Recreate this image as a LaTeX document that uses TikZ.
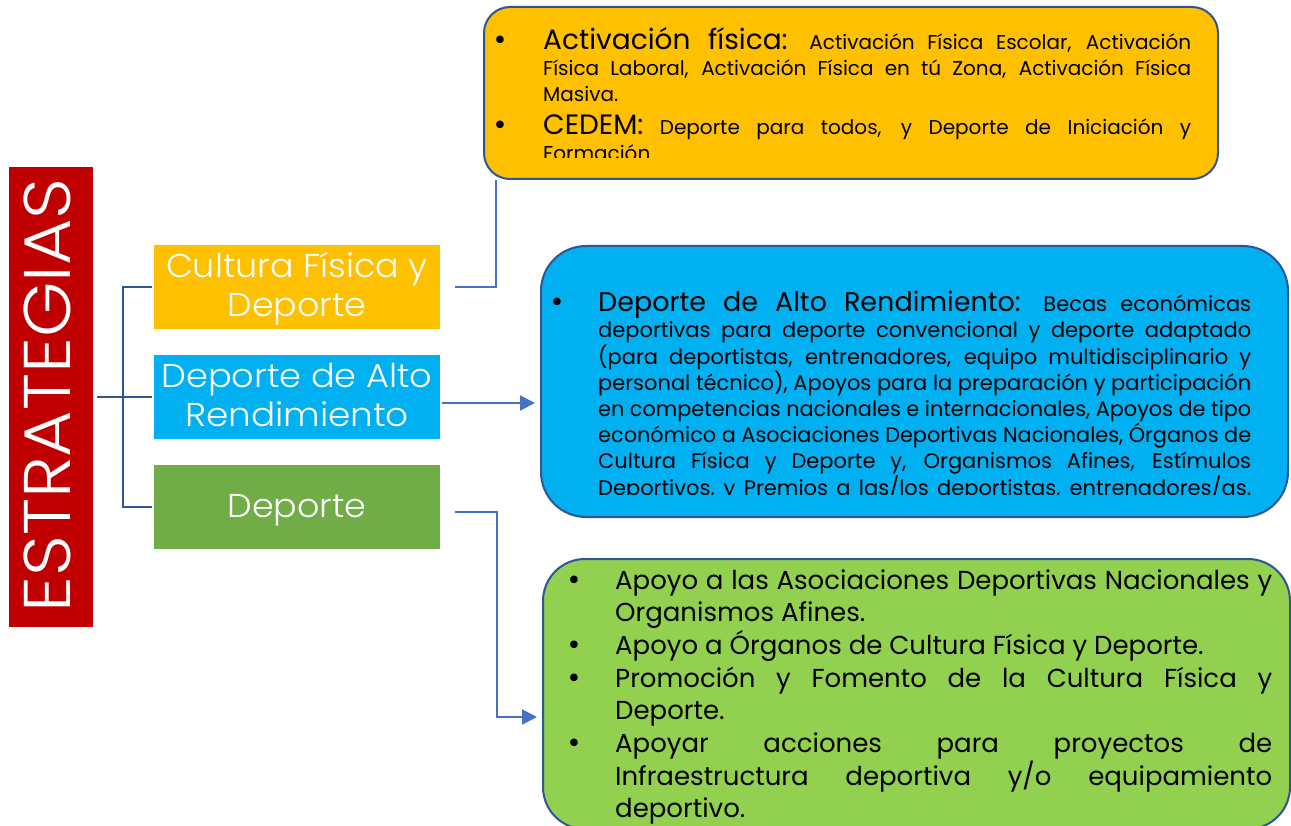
\documentclass[tikz,border=0pt]{standalone}
\usepackage{fontspec}
\setmainfont{Poppins}
\newfontfamily\lightfont{Poppins Light}
\newfontfamily\dejavu{DejaVu Sans}
\usepackage{graphicx}
\usetikzlibrary{arrows.meta}
\definecolor{cyel}{HTML}{FFC000}
\definecolor{cblu}{HTML}{00B0F0}
\definecolor{cgrs}{HTML}{70AD47}
\definecolor{cgrb}{HTML}{92D050}
\definecolor{cred}{HTML}{C00000}
\definecolor{cbrd}{HTML}{2F5597}
\definecolor{ccon}{HTML}{4472C4}
\newcommand\jl[2]{\sbox0{#2}\ifdim\wd0>#1\relax\resizebox{#1}{\height}{#2}\else\makebox[#1][s]{#2}\fi}
\newcommand\fw[2]{\resizebox{#1}{\height}{#2}}
\newcommand\ysm{\fontsize{20}{22}\selectfont}
\newcommand\ybg{\fontsize{28}{30}\selectfont}
\newcommand\bsm{\fontsize{21}{24}\selectfont}
\newcommand\bbg{\fontsize{27}{30}\selectfont}
\newcommand\gsz{\fontsize{26}{28}\selectfont}
\tikzset{
  sbox/.style={draw=none, minimum width=286pt, minimum height=84pt, inner sep=0pt},
  bigbox/.style={draw=cbrd, line width=2pt, inner sep=0pt},
  lbl/.style={text=white, inner sep=0pt, anchor=base, font=\lightfont\fontsize{33}{33}\selectfont},
  tl/.style={inner sep=0pt, anchor=base west},
  blt/.style={inner sep=0pt, anchor=base, font=\dejavu\fontsize{26}{26}\selectfont},
  brk/.style={draw=cbrd, line width=2pt},
  con/.style={draw=ccon, line width=2pt},
  arr/.style={con, -{Triangle[length=15pt,width=15pt]}},
}
\begin{document}
\begin{tikzpicture}[x=1pt,y=-1pt]
\clip (0,0) rectangle (1291,826);
\fill[white] (0,0) rectangle (1291,826);

% left title
\node[fill=cred, minimum width=84pt, minimum height=460pt, inner sep=0pt] (red) at (51,397) {};
\node[rotate=90, anchor=base, text=white, inner sep=0pt, font=\lightfont\fontsize{66}{66}\selectfont] (est) at (70.5,395.5) {\fw{434pt}{ESTRATEGIAS}};

% strategy boxes
\node[sbox, fill=cyel] (s1) at (297,287) {};
\node[sbox, fill=cblu] (s2) at (297,397) {};
\node[sbox, fill=cgrs] (s3) at (297,507) {};
\node[lbl] (s1a) at (297,278) {\fw{262pt}{Cultura Física y}};
\node[lbl] (s1b) at (297,317) {\fw{139pt}{Deporte}};
\node[lbl] (s2a) at (297,388) {\fw{271pt}{Deporte de Alto}};
\node[lbl] (s2b) at (297,427) {\fw{224pt}{Rendimiento}};
\node[lbl] (s3a) at (297,517) {\fw{139pt}{Deporte}};

% bracket
\draw[brk] ([xshift=4pt]red.east) -- ([xshift=-2pt]s2.west);
\draw[brk] ([xshift=-2pt]s1.west) -- ++(-29,0) |- ([xshift=-2pt]s3.west);

% detail boxes
\node[bigbox, fill=cyel, rounded corners=26pt, minimum width=734pt, minimum height=172pt] (Y) at (851,93) {};
\node[bigbox, fill=cblu, rounded corners=45pt, minimum width=747pt, minimum height=271pt] (B) at (914.5,381.5) {};
\node[bigbox, fill=cgrb, rounded corners=42pt, minimum width=747pt, minimum height=270pt] (G) at (916.5,694) {};

% connectors
\coordinate (bt) at (535,403);
\coordinate (gt) at (537,717);
\draw[con] ([xshift=15pt]s1.east) -| ([xshift=-355pt]Y.south);
\draw[arr] ([xshift=2pt,yshift=-6pt]s2.east) -- (bt);
\draw[arr] ([xshift=15pt,yshift=-5pt]s3.east) -- ++(42,0) |- (gt);

% yellow text
\begin{scope}
\clip (484,0) rectangle (1218,158);
\node[blt] (yb1) at (500,50) {•};
\node[blt] (yb2) at (500,135) {•};
\node[tl,font=\ysm] (y1) at (543,50) {\jl{648pt}{{\ybg Activación física:} Activación Física Escolar, Activación}};
\node[tl,font=\ysm] (y2) at (543,76) {\jl{648pt}{Física Laboral, Activación Física en tú Zona, Activación Física}};
\node[tl,font=\ysm] (y3) at (543,102) {Masiva.};
\node[tl,font=\ysm] (y4) at (543,135) {\jl{648pt}{{\ybg CEDEM:} Deporte para todos, y Deporte de Iniciación y}};
\node[tl,font=\ysm] (y5) at (543,161) {Formación};
\end{scope}

% blue text
\begin{scope}
\clip (541,246) rectangle (1288,494);
\node[blt] (bb1) at (557,311.7) {•};
\node[tl,font=\bsm] (b1) at (598,311.7) {\jl{653pt}{{\bbg Deporte de Alto Rendimiento:} Becas económicas}};
\node[tl,font=\bsm] (b2) at (598,337.9) {\jl{653pt}{deportivas para deporte convencional y deporte adaptado}};
\node[tl,font=\bsm] (b3) at (598,364.1) {\jl{653pt}{(para deportistas, entrenadores, equipo multidisciplinario y}};
\node[tl,font=\bsm] (b4) at (598,390.3) {\jl{653pt}{personal técnico), Apoyos para la preparación y participación}};
\node[tl,font=\bsm] (b5) at (598,416.5) {\jl{653pt}{en competencias nacionales e internacionales, Apoyos de tipo}};
\node[tl,font=\bsm] (b6) at (598,442.7) {\jl{653pt}{económico a Asociaciones Deportivas Nacionales, Órganos de}};
\node[tl,font=\bsm] (b7) at (598,468.9) {\jl{653pt}{Cultura Física y Deporte y, Organismos Afines, Estímulos}};
\node[tl,font=\bsm] (b8) at (598,495.1) {\jl{653pt}{Deportivos, y Premios a las/los deportistas, entrenadores/as.}};
\end{scope}

% green text
\node[blt] (gb1) at (574,589) {•};
\node[blt] (gb2) at (574,654.4) {•};
\node[blt] (gb3) at (574,687.1) {•};
\node[blt] (gb4) at (574,752.5) {•};
\node[tl,font=\gsz] (g1) at (615,589) {\jl{657pt}{Apoyo a las Asociaciones Deportivas Nacionales y}};
\node[tl,font=\gsz] (g2) at (615,621.7) {Organismos Afines.};
\node[tl,font=\gsz] (g3) at (615,654.4) {Apoyo a Órganos de Cultura Física y Deporte.};
\node[tl,font=\gsz] (g4) at (615,687.1) {\jl{657pt}{Promoción y Fomento de la Cultura Física y}};
\node[tl,font=\gsz] (g5) at (615,719.8) {Deporte.};
\node[tl,font=\gsz] (g6) at (615,752.5) {\jl{657pt}{Apoyar acciones para proyectos de}};
\node[tl,font=\gsz] (g7) at (615,785.2) {\jl{657pt}{Infraestructura deportiva y/o equipamiento}};
\node[tl,font=\gsz] (g8) at (615,817.9) {deportivo.};
\end{tikzpicture}
\end{document}
